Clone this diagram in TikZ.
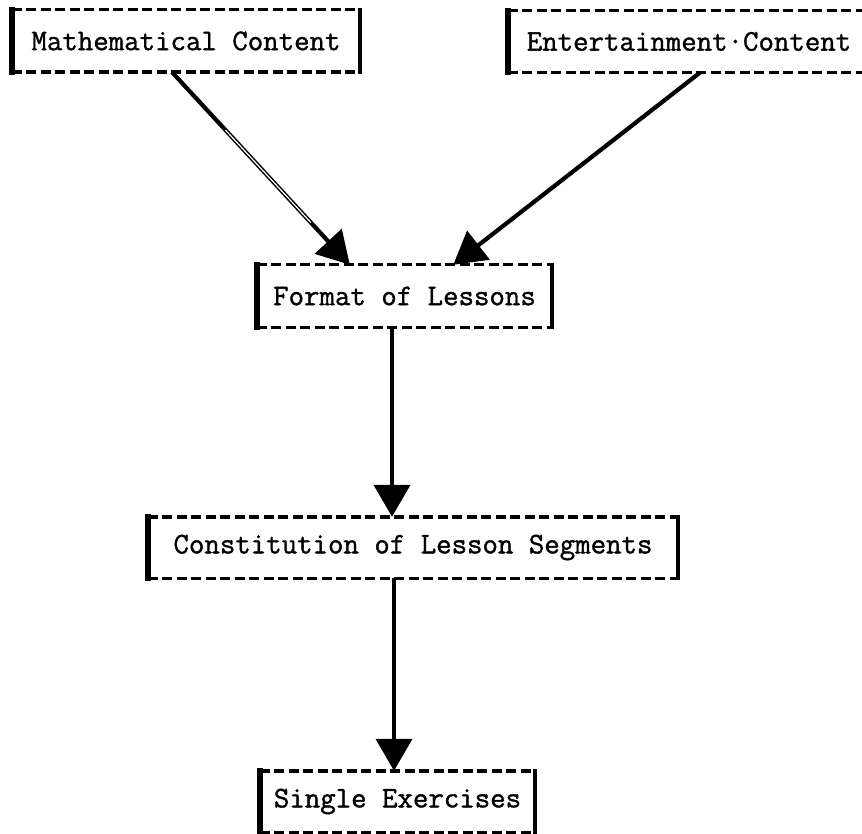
\documentclass[tikz,border=0pt]{standalone}
\usepackage{fontspec}
\newfontfamily\twfont{Latin Modern Mono}[FakeBold=1.2]
\usetikzlibrary{arrows.meta,calc}
\tikzset{
  tbox/.style={minimum height=62pt, inner sep=0pt, font=\twfont\fontsize{30}{36}\selectfont},
  dashedge/.style={line width=3.4pt, dash pattern=on 10pt off 4.5pt},
  leftedge/.style={line width=5.5pt},
  rightedge/.style={line width=3.8pt},
  flowarrow/.style={line width=4.2pt, -{Triangle[length=32pt,width=36pt]}},
  hollowline/.style={line width=1.2pt, white}
}
\newcommand\tbframe[1]{%
  \draw[dashedge] (#1.north west) -- (#1.north east);
  \draw[dashedge] (#1.south west) -- (#1.south east);
  \draw[leftedge] ([yshift=2.5pt]#1.north west) -- ([yshift=-2.5pt]#1.south west);
  \draw[rightedge] ([yshift=1.7pt]#1.north east) -- ([yshift=-1.7pt]#1.south east);
}
\begin{document}
\begin{tikzpicture}[x=1pt,y=-1pt]
  \useasboundingbox (0,0) rectangle (862,834);
  \begin{scope}
  \clip (0,0) rectangle (862,834);
  \node[tbox, minimum width=348pt] (m) at (186,41) {Mathematical Content};
  \node[tbox, minimum width=362pt] (e) at (689,41.5) {Entertainment·Content};
  \node[tbox, minimum width=295pt] (f) at (404.5,296) {Format of Lessons};
  \node[tbox, minimum width=530pt, minimum height=61pt] (c) at (413,547.5) {Constitution of Lesson Segments};
  \node[tbox, minimum width=275pt, minimum height=61pt] (s) at (397.5,801.5) {Single Exercises};
  \tbframe{m}
  \tbframe{e}
  \tbframe{f}
  \tbframe{c}
  \tbframe{s}
  \end{scope}
  \coordinate (ms) at ($(m.south west)!0.46!(m.south east)$);
  \coordinate (ft1) at ($(f.north west)!0.315!(f.north east)$);
  \coordinate (es) at ($(e.south west)!0.53!(e.south east)$);
  \coordinate (ft2) at ($(f.north west)!0.665!(f.north east)$);
  \coordinate (v1) at (392,0);
  \coordinate (v2) at (394,0);
  \draw[flowarrow] (ms) -- (ft1);
  \draw[hollowline] ($(ms)!0.3!(ft1)$) -- ($(ms)!0.78!(ft1)$);
  \draw[flowarrow] (es) -- (ft2);
  \draw[flowarrow] (f.south -| v1) -- (c.north -| v1);
  \draw[flowarrow] (c.south -| v2) -- (s.north -| v2);
\end{tikzpicture}
\end{document}
